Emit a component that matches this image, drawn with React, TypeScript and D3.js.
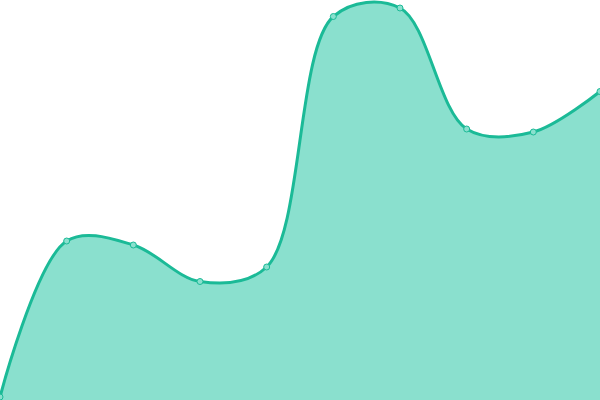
import React from 'react'
import * as d3 from 'd3'

const categories = ['1', '2', '3', '4', '5', '6', '7', '8', '9', '10']
const values = [3, 159, 155, 118.5, 133, 383.5, 392, 271, 268, 308.5]

const width = 600
const height = 400

export default function App() {
  const x = d3
    .scalePoint<string>()
    .domain(categories)
    .range([0, width])
  const y = d3.scaleLinear().domain([0, 400]).range([height, 0])

  const data = categories.map((c, i) => ({ c, v: values[i] }))

  const area = d3
    .area<{ c: string; v: number }>()
    .curve(d3.curveCatmullRom)
    .x((d) => x(d.c) as number)
    .y0(height)
    .y1((d) => y(d.v))

  const line = d3
    .line<{ c: string; v: number }>()
    .curve(d3.curveCatmullRom)
    .x((d) => x(d.c) as number)
    .y((d) => y(d.v))

  return (
    <svg
      width={width}
      height={height}
      style={{ position: 'absolute', left: 0, top: 0, display: 'block' }}
    >
      <path d={area(data) || ''} fill="#8ae0ce" />
      <path d={line(data) || ''} fill="none" stroke="#1bba97" strokeWidth={3} />
      {data.map((d) => (
        <circle
          key={d.c}
          cx={x(d.c)}
          cy={y(d.v)}
          r={3}
          fill="#8ae0ce"
          stroke="#1bba97"
          strokeWidth={1}
        />
      ))}
    </svg>
  )
}
